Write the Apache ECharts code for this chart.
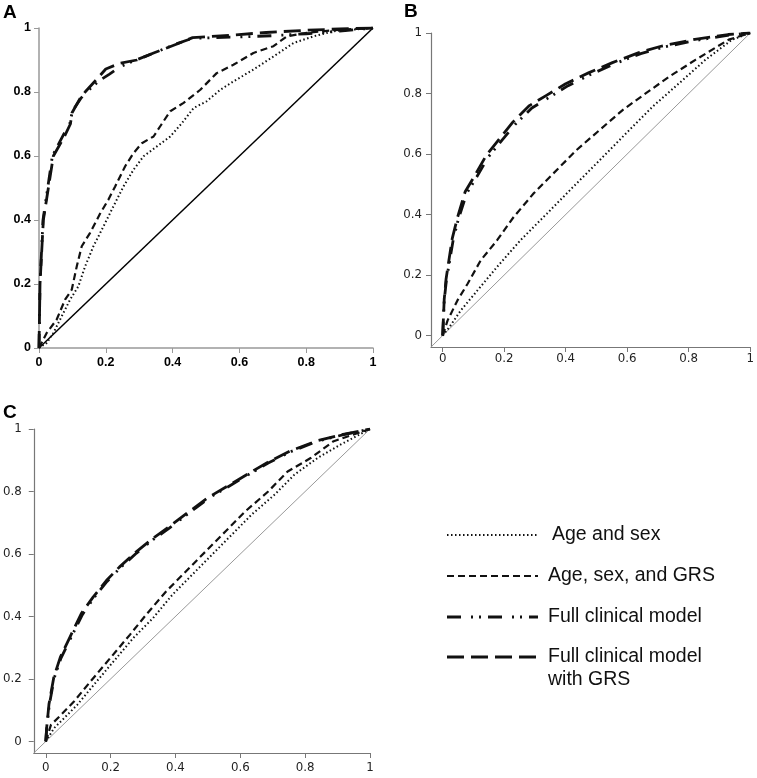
<!DOCTYPE html>
<html>
<head>
<meta charset="utf-8">
<script src="https://cdn.jsdelivr.net/npm/echarts@6/dist/echarts.min.js"></script>
<style>
  html, body { margin: 0; padding: 0; background: #fff; }
  #chart { width: 757px; height: 778px; }
</style>
</head>
<body>
<div id="chart"></div>
<script>
// tick positions shared by every panel
const ticks = [0, 0.2, 0.4, 0.6, 0.8, 1]

// legend names
const names = ['Age and sex', 'Age, sex, and GRS', 'Full clinical model', 'Full clinical model with GRS']

// panel A  (false positive rate, true positive rate)
const aAgeSex = [[0,0],[0.023,0.016],[0.043,0.047],[0.068,0.099],[0.093,0.151],[0.118,0.193],[0.138,0.255],[0.163,0.318],[0.193,0.38],[0.223,0.443],[0.253,0.505],[0.283,0.557],[0.313,0.599],[0.353,0.63],[0.393,0.661],[0.428,0.703],[0.463,0.75],[0.502,0.771],[0.543,0.807],[0.582,0.833],[0.642,0.87],[0.702,0.911],[0.762,0.953],[0.822,0.974],[0.882,0.99],[1,1]]
const aAgeSexGrs = [[0,0],[0.023,0.047],[0.053,0.089],[0.078,0.151],[0.098,0.182],[0.113,0.255],[0.128,0.318],[0.153,0.36],[0.183,0.42],[0.208,0.464],[0.228,0.505],[0.258,0.568],[0.283,0.609],[0.308,0.64],[0.343,0.661],[0.363,0.693],[0.393,0.74],[0.433,0.766],[0.483,0.807],[0.532,0.859],[0.582,0.885],[0.642,0.922],[0.702,0.943],[0.742,0.974],[0.802,0.985],[0.88,0.993],[1,1]]
const aFull = [[0,0],[0.003,0.2],[0.012,0.4],[0.04,0.6],[0.075,0.67],[0.092,0.7],[0.1,0.74],[0.125,0.78],[0.142,0.8],[0.18,0.835],[0.21,0.855],[0.245,0.88],[0.29,0.9],[0.34,0.92],[0.41,0.95],[0.46,0.968],[0.6,0.972],[0.7,0.976],[0.8,0.982],[0.9,0.99],[1,1]]
const aFullGrs = [[0,0],[0.003,0.2],[0.013,0.4],[0.043,0.6],[0.078,0.665],[0.094,0.7],[0.099,0.735],[0.123,0.78],[0.138,0.8],[0.173,0.84],[0.2,0.872],[0.243,0.89],[0.293,0.9],[0.343,0.922],[0.413,0.95],[0.46,0.97],[0.58,0.978],[0.68,0.986],[0.8,0.993],[0.9,0.997],[1,1]]
const aRef = [[0,0],[1,1]]

// panel B
const bAgeSex = [[0,0],[0.022,0.028],[0.059,0.083],[0.113,0.149],[0.177,0.227],[0.253,0.315],[0.339,0.403],[0.425,0.492],[0.511,0.58],[0.597,0.669],[0.683,0.757],[0.769,0.834],[0.855,0.912],[0.941,0.978],[1,1]]
const bAgeSexGrs = [[0,0],[0.016,0.05],[0.048,0.116],[0.081,0.171],[0.124,0.249],[0.177,0.315],[0.231,0.392],[0.296,0.47],[0.36,0.536],[0.435,0.613],[0.511,0.68],[0.586,0.746],[0.661,0.801],[0.737,0.856],[0.823,0.912],[0.93,0.978],[1,1]]
const bFull = [[0,0],[0.005,0.116],[0.012,0.182],[0.023,0.249],[0.034,0.315],[0.05,0.381],[0.078,0.47],[0.111,0.525],[0.149,0.591],[0.193,0.646],[0.236,0.698],[0.29,0.752],[0.344,0.786],[0.408,0.826],[0.483,0.864],[0.558,0.898],[0.644,0.932],[0.72,0.954],[0.827,0.976],[0.932,0.993],[1,1]]
const bFullGrs = [[0,0],[0.005,0.12],[0.011,0.187],[0.021,0.254],[0.031,0.32],[0.047,0.386],[0.073,0.475],[0.105,0.53],[0.142,0.596],[0.185,0.651],[0.228,0.705],[0.282,0.76],[0.336,0.793],[0.4,0.832],[0.476,0.869],[0.552,0.902],[0.638,0.935],[0.713,0.957],[0.82,0.979],[0.928,0.995],[1,1]]
const bRef = [[-0.038,-0.038],[1,1]]

// panel C
const cAgeSex = [[0,0],[0.026,0.043],[0.057,0.075],[0.097,0.117],[0.148,0.181],[0.209,0.256],[0.27,0.331],[0.331,0.395],[0.391,0.47],[0.452,0.534],[0.513,0.598],[0.574,0.662],[0.635,0.726],[0.706,0.79],[0.767,0.854],[0.838,0.907],[0.909,0.95],[1,1]]
const cAgeSexGrs = [[0,0],[0.016,0.053],[0.047,0.085],[0.087,0.128],[0.138,0.192],[0.199,0.267],[0.26,0.342],[0.31,0.406],[0.371,0.48],[0.432,0.544],[0.493,0.608],[0.554,0.672],[0.615,0.736],[0.686,0.8],[0.746,0.864],[0.817,0.907],[0.888,0.961],[1,1]]
const cFull = [[0,0],[0.003,0.043],[0.011,0.117],[0.026,0.203],[0.047,0.267],[0.077,0.331],[0.113,0.406],[0.148,0.459],[0.189,0.512],[0.229,0.555],[0.28,0.603],[0.331,0.646],[0.381,0.683],[0.442,0.731],[0.503,0.779],[0.564,0.816],[0.625,0.854],[0.686,0.891],[0.757,0.928],[0.838,0.961],[0.919,0.982],[1,1]]
const cFullGrs = [[0,0],[0.003,0.046],[0.01,0.12],[0.025,0.206],[0.045,0.27],[0.075,0.335],[0.11,0.41],[0.146,0.462],[0.187,0.515],[0.227,0.558],[0.278,0.606],[0.329,0.649],[0.379,0.686],[0.44,0.734],[0.501,0.781],[0.562,0.818],[0.623,0.856],[0.684,0.893],[0.755,0.93],[0.836,0.962],[0.917,0.983],[1,1]]
const cRef = [[-0.037,-0.037],[1,1]]

const dashes = [[1.5, 2.5], [7, 4], [14, 10, 2, 6, 2, 7], [17, 7]]
const widths = [2, 2.2, 2.8, 2.8]
const ink = '#111'
const arial = 'Liberation Sans, Arial, sans-serif'
const dejavu = 'DejaVu Sans, sans-serif'

const chart = echarts.init(document.getElementById('chart'), null, { renderer: 'canvas' })

function axis(grid, min, bold, margin) {
  return {
    type: 'value', gridIndex: grid, min: min, max: 1,
    splitLine: { show: false },
    axisLine: { onZero: false, lineStyle: { color: bold ? '#999' : '#777', width: bold ? 1.5 : 1.2 } },
    axisTick: { customValues: ticks, length: 5, lineStyle: { color: bold ? '#999' : '#777' } },
    axisLabel: {
      customValues: ticks, margin: margin, color: bold ? '#000' : '#222',
      fontFamily: bold ? arial : dejavu, fontSize: bold ? 12.5 : 11.8, fontWeight: bold ? 'bold' : 'normal'
    }
  }
}

function curve(name, data, k, grid) {
  return {
    name: name, type: 'line', xAxisIndex: grid, yAxisIndex: grid,
    data: data, showSymbol: false, symbol: 'none', silent: true,
    lineStyle: { color: ink, width: widths[k], type: dashes[k] }
  }
}
function ref(data, grid, color, width) {
  return {
    type: 'line', xAxisIndex: grid, yAxisIndex: grid, data: data,
    showSymbol: false, symbol: 'none', silent: true,
    lineStyle: { color: color, width: width, type: 'solid' }
  }
}

const legendRows = [
  { y: 535, tx: 552, lines: [names[0]] },
  { y: 576, tx: 548, lines: [names[1]] },
  { y: 617, tx: 548, lines: [names[2]] },
  { y: 657, tx: 548, lines: ['Full clinical model', 'with GRS'] }
]
const graphics = []
legendRows.forEach((r, k) => {
  graphics.push({
    type: 'line', silent: true,
    shape: { x1: 447, y1: r.y, x2: 538, y2: r.y },
    style: { stroke: ink, lineWidth: widths[k], lineDash: dashes[k] }
  })
  r.lines.forEach((t, j) => {
    graphics.push({
      type: 'text', x: r.tx, y: r.y + j * 23,
      style: { text: t, fill: ink, font: '19.5px ' + arial, verticalAlign: 'middle' }
    })
  })
})
;[['A', 3, 13], ['B', 404, 12], ['C', 3, 413]].forEach(p => {
  graphics.push({
    type: 'text', x: p[1], y: p[2],
    style: { text: p[0], fill: '#000', font: 'bold 19px ' + arial, verticalAlign: 'middle' }
  })
})

const option = {
  animation: false,
  backgroundColor: '#fff',
  grid: [
    { left: 39, top: 28, width: 334, height: 320 },
    { left: 431, top: 33, width: 321, height: 314 },
    { left: 29, top: 429, width: 341, height: 324 }
  ],
  xAxis: [axis(0, 0, true, 8), axis(1, -0.038, false, 6), axis(2, -0.037, false, 9)],
  yAxis: [axis(0, 0, true, 8), axis(1, -0.038, false, 9), axis(2, -0.037, false, 12)],
  series: [
    ref(aRef, 0, '#000', 1.5),
    curve(names[0], aAgeSex, 0, 0),
    curve(names[1], aAgeSexGrs, 1, 0),
    curve(names[2], aFull, 2, 0),
    curve(names[3], aFullGrs, 3, 0),
    ref(bRef, 1, '#999', 1),
    curve(names[0], bAgeSex, 0, 1),
    curve(names[1], bAgeSexGrs, 1, 1),
    curve(names[2], bFull, 2, 1),
    curve(names[3], bFullGrs, 3, 1),
    ref(cRef, 2, '#999', 1),
    curve(names[0], cAgeSex, 0, 2),
    curve(names[1], cAgeSexGrs, 1, 2),
    curve(names[2], cFull, 2, 2),
    curve(names[3], cFullGrs, 3, 2)
  ],
  graphic: graphics
}
chart.setOption(option)
</script>
</body>
</html>
